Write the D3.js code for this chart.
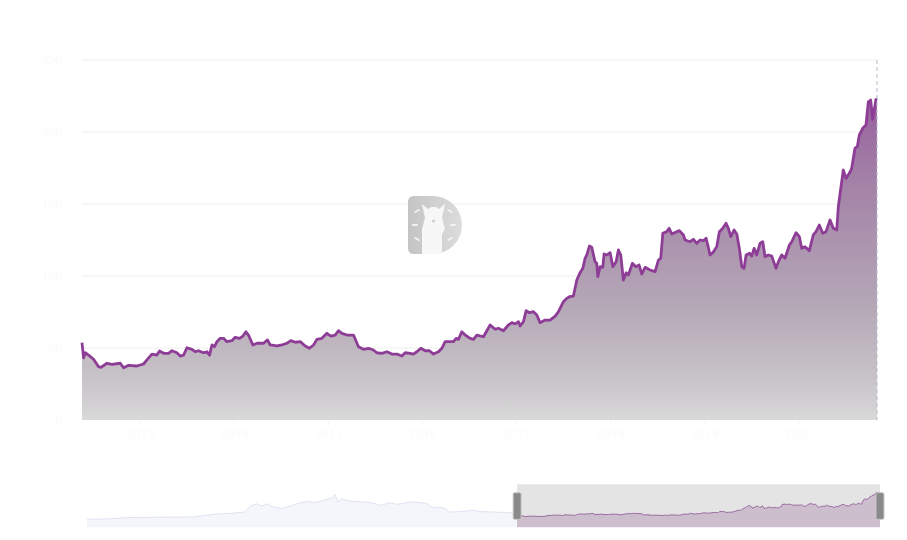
<!DOCTYPE html>
<html><head><meta charset="utf-8">
<script src="https://cdn.jsdelivr.net/npm/d3@7"></script>
<style>html,body{margin:0;padding:0;background:#fff;} svg{display:block;font-family:"Noto Sans",sans-serif;}</style>
</head><body>
<svg id="chart" width="907" height="540"></svg>
<script>
// Visible series (decimal year, value)
const years = [2012.381,2012.398,2012.416,2012.451,2012.504,2012.557,2012.583,2012.646,2012.699,2012.788,2012.823,2012.876,2012.965,2013.035,2013.071,2013.124,2013.177,2013.205,2013.248,2013.301,2013.337,2013.390,2013.425,2013.460,2013.496,2013.549,2013.584,2013.619,2013.672,2013.709,2013.736,2013.762,2013.789,2013.815,2013.850,2013.885,2013.921,2013.974,2014.009,2014.055,2014.091,2014.123,2014.150,2014.197,2014.240,2014.310,2014.352,2014.381,2014.452,2014.505,2014.558,2014.601,2014.647,2014.700,2014.753,2014.798,2014.841,2014.877,2014.930,2014.983,2015.026,2015.071,2015.107,2015.143,2015.196,2015.266,2015.319,2015.372,2015.425,2015.478,2015.514,2015.568,2015.621,2015.674,2015.727,2015.780,2015.815,2015.868,2015.903,2015.939,2015.982,2016.028,2016.073,2016.116,2016.169,2016.205,2016.240,2016.293,2016.328,2016.357,2016.381,2016.417,2016.452,2016.506,2016.541,2016.577,2016.647,2016.718,2016.771,2016.806,2016.859,2016.912,2016.949,2016.984,2017.019,2017.037,2017.072,2017.100,2017.136,2017.178,2017.214,2017.249,2017.302,2017.355,2017.409,2017.444,2017.497,2017.533,2017.560,2017.603,2017.639,2017.674,2017.703,2017.727,2017.745,2017.773,2017.798,2017.833,2017.851,2017.862,2017.887,2017.915,2017.929,2017.958,2017.993,2018.022,2018.057,2018.081,2018.106,2018.134,2018.163,2018.187,2018.230,2018.266,2018.301,2018.330,2018.365,2018.418,2018.471,2018.506,2018.531,2018.553,2018.595,2018.620,2018.648,2018.701,2018.729,2018.772,2018.790,2018.843,2018.878,2018.914,2018.949,2018.984,2019.013,2019.031,2019.055,2019.084,2019.126,2019.154,2019.190,2019.225,2019.250,2019.275,2019.310,2019.339,2019.366,2019.392,2019.416,2019.438,2019.473,2019.498,2019.523,2019.551,2019.586,2019.615,2019.639,2019.674,2019.710,2019.756,2019.781,2019.817,2019.852,2019.898,2019.923,2019.969,2020.004,2020.029,2020.064,2020.110,2020.152,2020.181,2020.216,2020.252,2020.287,2020.330,2020.365,2020.401,2020.418,2020.471,2020.500,2020.535,2020.560,2020.595,2020.620,2020.641,2020.677,2020.712,2020.737,2020.762,2020.783,2020.818,2020.829];
const values = [53.7,43.1,46.7,45.1,42.2,37.0,36.6,39.4,38.7,39.4,36.3,38.0,37.5,38.9,41.7,45.8,45.1,47.9,46.3,46.3,48.1,46.7,44.4,45.1,50.2,49.1,47.4,48.1,46.7,47.4,45.1,52.1,50.9,54.4,56.7,56.7,54.4,55.1,57.4,56.7,58.3,61.3,59.0,52.1,53.3,53.3,55.6,52.1,51.4,52.1,53.3,55.1,54.0,54.4,51.4,49.8,52.1,56.0,56.7,60.2,58.3,59.0,62.0,60.2,59.0,59.0,50.9,49.1,49.8,48.6,46.7,46.3,47.4,45.8,45.8,44.4,46.7,46.3,45.8,47.4,49.8,48.1,48.1,45.8,47.4,49.8,54.4,54.4,54.4,56.7,56.0,61.3,59.0,56.7,56.0,59.0,57.8,66.0,63.0,63.7,62.0,66.0,67.6,66.7,68.3,65.3,68.3,75.9,74.5,75.2,72.9,67.6,69.4,69.4,72.2,75.2,82.2,84.5,85.6,86.1,97.2,102.3,105.3,112.3,114.6,120.8,119.9,109.9,108.8,99.5,106.5,106.0,115.3,114.6,116.2,106.5,109.9,118.1,114.6,97.2,102.3,100.7,108.8,106.5,107.6,101.4,106.0,104.2,103.0,111.1,112.3,129.7,130.8,133.1,129.2,130.8,131.5,128.5,125.0,123.8,125.5,122.7,125.0,124.5,126.2,121.5,114.6,116.2,120.3,130.8,133.1,136.6,133.1,127.3,131.9,129.2,119.2,106.5,105.3,114.6,115.8,113.9,119.2,114.6,122.7,123.8,113.4,114.6,113.9,105.3,109.9,114.6,112.3,121.5,123.8,130.1,127.3,119.2,120.3,117.6,128.5,130.8,135.4,129.7,130.8,138.9,133.1,131.9,148.1,173.6,167.8,171.3,174.8,188.7,189.8,197.9,202.6,204.9,221.0,222.2,208.8,222.7,222.2];
// Earlier history (only visible in the zoom slider)
const historyYears = [2002.367,2002.832,2003.297,2004.070,2004.846,2005.311,2005.700,2006.048,2006.165,2006.320,2006.437,2006.553,2006.707,2006.902,2007.095,2007.328,2007.521,2007.637,2007.793,2007.948,2008.065,2008.141,2008.204,2008.297,2008.490,2008.723,2008.879,2009.072,2009.188,2009.421,2009.577,2009.809,2009.925,2010.274,2010.390,2010.660,2010.816,2011.048,2011.358,2011.553,2011.823,2012.211];
const historyValues = [15.7,18.0,28.6,30.9,33.2,53.7,61.3,71.2,116.8,135.0,116.8,135.0,109.2,99.3,116.8,142.6,154.8,142.6,154.8,167.7,180.6,205.7,147.2,173.0,154.8,150.2,147.2,137.3,122.1,142.6,129.7,142.6,150.2,137.3,109.2,104.6,71.2,74.2,84.1,74.2,71.2,66.6];
const yTicks = [0,50,100,150,200,250];
const yTickLabels = ["0","50","100","150","200","250"];
const xTickYears = [2013,2014,2015,2016,2017,2018,2019,2020];
const xTickLabels = ["2013","2014","2015","2016","2017","2018","2019","2020"];

const svg = d3.select('#chart');
const L = 82, R = 877, T = 60, B = 420;
const x = d3.scaleLinear().domain([years[0], years[years.length-1]]).range([L, R]);
const y = d3.scaleLinear().domain([0, 250]).range([B, T]);
const pts = years.map((d,i)=>({x:d, v:values[i]}));

const defs = svg.append('defs');
const g1 = defs.append('linearGradient').attr('id','areaGrad').attr('x1',0).attr('y1',0).attr('x2',0).attr('y2',1);
[[0,'#975f9d'],[0.23,'#a27fa6'],[0.65,'#b5a8b7'],[0.875,'#c8c4c8'],[1,'#d9d9d9']].forEach(s=>
  g1.append('stop').attr('offset',s[0]).attr('stop-color',s[1]));
const g2 = defs.append('linearGradient').attr('id','logoGrad').attr('x1',0).attr('y1',0).attr('x2',1).attr('y2',0);
g2.append('stop').attr('offset','0%').attr('stop-color','#c4c4c4');
g2.append('stop').attr('offset','100%').attr('stop-color','#dcdcdc');

// grid
svg.append('g').selectAll('line').data(yTicks.slice(1)).join('line')
  .attr('x1',L).attr('x2',R).attr('y1',d=>y(d)).attr('y2',d=>y(d))
  .attr('stroke','#efefef').attr('stroke-width',1);

// y labels (very faint, as in reference)
svg.append('g').selectAll('text').data(yTicks).join('text')
  .attr('x',L-20).attr('y',d=>y(d)+4).attr('text-anchor','end')
  .attr('font-size',12).attr('fill','#fbfbfb').text((d,i)=>yTickLabels[i]);

// area & line
svg.append('path').datum(pts)
  .attr('d', d3.area().x(d=>x(d.x)).y0(y(0)).y1(d=>y(d.v)))
  .attr('fill','url(#areaGrad)');
svg.append('path').datum(pts)
  .attr('d', d3.line().x(d=>x(d.x)).y(d=>y(d.v)))
  .attr('fill','none').attr('stroke','#8e3d97').attr('stroke-width',2.8).attr('stroke-linejoin','round');

// x axis ticks + labels
svg.append('g').selectAll('line').data(xTickYears).join('line')
  .attr('x1',d=>x(d)).attr('x2',d=>x(d)).attr('y1',B).attr('y2',B+5)
  .attr('stroke','#f6f6f6');
svg.append('g').selectAll('text').data(xTickYears).join('text')
  .attr('x',d=>x(d)).attr('y',B+18).attr('text-anchor','middle')
  .attr('font-size',12).attr('fill','#fbfbfb').text((d,i)=>xTickLabels[i]);

// dashed pointer line at right
svg.append('line').attr('x1',x(years[years.length-1])).attr('x2',x(years[years.length-1]))
  .attr('y1',T).attr('y2',B).attr('stroke','#b4bbcc').attr('stroke-width',1).attr('stroke-dasharray','4,3');

// watermark logo
const logo = svg.append('g');
logo.append('path').attr('d','M414,196 H433 A29,29 0 0 1 433,254 H414 Q408,254 408,248 V202 Q408,196 414,196 Z').attr('fill','url(#logoGrad)');
logo.append('path').attr('d','M422,254 V229 L425,218 L422,204 L428,209 L431,207 L436,207 L439,209 L445,204 L442,218 L445,229 L442,234 V254 Z').attr('fill','#f7f7f7');
logo.append('circle').attr('cx',433.5).attr('cy',221).attr('r',1.6).attr('fill','#cfcfcf');
[[417,211,-30],[415,225,0],[417,239,30],[450,211,30],[453,225,0],[450,239,-30]].forEach(a=>{
  logo.append('rect').attr('x',a[0]-3).attr('y',a[1]-1).attr('width',6).attr('height',2).attr('rx',1)
    .attr('fill','#f2f2f2').attr('transform',`rotate(${a[2]},${a[0]},${a[1]})`);
});

// zoom slider
const allYears = historyYears.concat(years);
const allValues = historyValues.concat(values);
const allPts = allYears.map((d,i)=>({x:d, v:allValues[i]}));
const SL = 87, SR = 880, ST = 484.3, SB = 527.3;
const sx = d3.scaleLinear().domain([allYears[0], allYears[allYears.length-1]]).range([SL, SR]);
const ext = d3.extent(allValues); const off = (ext[1]-ext[0])*0.3;
const sy = d3.scaleLinear().domain([ext[0]-off, ext[1]+off]).range([SB, ST]);
const sArea = d3.area().x(d=>sx(d.x)).y0(SB).y1(d=>sy(d.v));
const sLine = d3.line().x(d=>sx(d.x)).y(d=>sy(d.v));
svg.append('path').datum(allPts).attr('d',sArea).attr('fill','#f4f6fb');
svg.append('path').datum(allPts).attr('d',sLine).attr('fill','none').attr('stroke','#dfe4f1').attr('stroke-width',1);
const wx0 = sx(years[0]), wx1 = sx(years[years.length-1]);
defs.append('clipPath').attr('id','selClip').append('rect').attr('x',wx0).attr('y',ST).attr('width',wx1-wx0).attr('height',SB-ST);
svg.append('rect').attr('x',wx0).attr('y',ST).attr('width',wx1-wx0).attr('height',SB-ST).attr('fill','#e4e4e4');
const sel = svg.append('g').attr('clip-path','url(#selClip)');
sel.append('path').datum(allPts).attr('d',sArea).attr('fill','#cdbecd');
sel.append('path').datum(allPts).attr('d',sLine).attr('fill','none').attr('stroke','#9a6aa1').attr('stroke-width',1);
[wx0, wx1].forEach(hx=>{
  svg.append('rect').attr('x',hx-4).attr('y',492.7).attr('width',8).attr('height',26.6).attr('rx',1.5)
    .attr('fill','#8a8a8a').attr('stroke','#c8c8c8').attr('stroke-width',1);
});
</script>
</body></html>
